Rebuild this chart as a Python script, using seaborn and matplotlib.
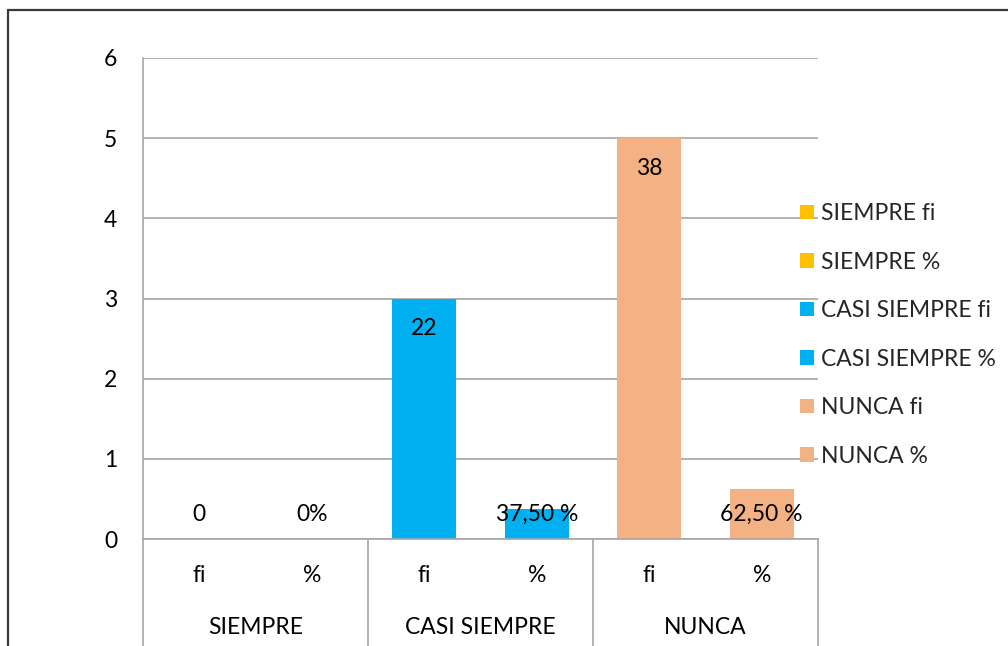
import matplotlib
matplotlib.use("Agg")
import matplotlib.pyplot as plt
from matplotlib.patches import Patch
from matplotlib.lines import Line2D
import matplotlib.transforms as mtransforms
import seaborn as sns
import pandas as pd

groups = ["SIEMPRE", "CASI SIEMPRE", "NUNCA"]
subcats = ["fi", "%"]
series = ["SIEMPRE fi", "SIEMPRE %", "CASI SIEMPRE fi", "CASI SIEMPRE %", "NUNCA fi", "NUNCA %"]
values = [0, 0, 3, 0.375, 5, 0.625]
labels = ["0", "0%", "22", "37,50 %", "38", "62,50 %"]
colors = ["#FFC000", "#FFC000", "#00B0F0", "#00B0F0", "#F4B183", "#F4B183"]

sns.set_theme(style="white")
plt.rcParams["font.family"] = ["Lato", "DejaVu Sans"]
FS = 16.5

df = pd.DataFrame({"serie": series, "valor": values})

fig = plt.figure(figsize=(10.08, 6.46), dpi=100)
ax = fig.add_axes([143 / 1008, 1 - 539 / 646, (818 - 143) / 1008, (539 - 58) / 646])

sns.barplot(data=df, x="serie", y="valor", hue="serie", order=series, hue_order=series,
            palette=dict(zip(series, colors)), dodge=False, width=0.57, ax=ax,
            legend=False, saturation=1, linewidth=0)

ax.set_ylim(0, 6)
ax.set_xlim(-0.5, 5.5)
ax.set_yticks(range(0, 7))
ax.yaxis.grid(True, color="#A6A6A6", linewidth=1.2)
ax.set_axisbelow(True)
for s in ["top", "right"]:
    ax.spines[s].set_visible(False)
for s in ["left", "bottom"]:
    ax.spines[s].set_color("#A6A6A6")
    ax.spines[s].set_linewidth(1.2)
ax.tick_params(axis="y", length=0, pad=18.5, labelsize=FS, labelcolor="black")
ax.tick_params(axis="x", length=0, pad=19, labelsize=FS, labelcolor="black")
ax.set_xticks(range(6))
ax.set_xticklabels([sc for _ in groups for sc in subcats])
ax.set_xlabel("")
ax.set_ylabel("")

# data labels
for i, (v, lab) in enumerate(zip(values, labels)):
    y = max(v - 0.375, 0.31)
    ax.text(i, y, lab, ha="center", va="center", fontsize=FS, color="black")

# multi-level category labels and separators
trans = mtransforms.blended_transform_factory(ax.transData, ax.transAxes)
for g, name in enumerate(groups):
    ax.text(g * 2 + 0.5, -0.183, name, transform=trans, ha="center", va="center",
            fontsize=FS, color="black")
for xb in [-0.5, 1.5, 3.5, 5.5]:
    ax.add_line(Line2D([xb, xb], [0, -0.23], transform=trans, color="#A6A6A6",
                       linewidth=1.2, clip_on=False))

# legend
handles = [Patch(facecolor=c, edgecolor="none") for c in colors]
fig.legend(handles, series, loc="upper left", bbox_to_anchor=(800 / 1008, 1 - 203 / 646),
           frameon=False, fontsize=FS, handlelength=0.62, handleheight=0.62,
           handletextpad=0.3, labelspacing=1.2, borderpad=0, borderaxespad=0)

# outer chart border (top and left visible)
fig.add_artist(Line2D([8 / 1008, 1.0], [1 - 10 / 646, 1 - 10 / 646], transform=fig.transFigure,
                      color="#3A3A3A", linewidth=1.6))
fig.add_artist(Line2D([8 / 1008, 8 / 1008], [0, 1 - 10 / 646], transform=fig.transFigure,
                      color="#3A3A3A", linewidth=1.6))

fig.savefig("out.png", dpi=100)
